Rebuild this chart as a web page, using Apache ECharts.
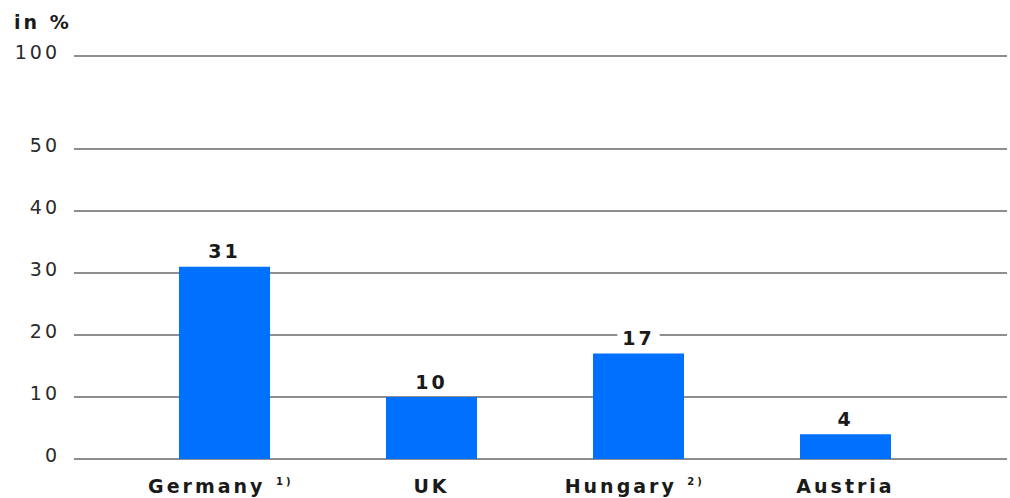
<!DOCTYPE html>
<html>
<head>
<meta charset="utf-8">
<script src="https://cdn.jsdelivr.net/npm/echarts@6/dist/echarts.min.js"></script>
<style>
  html, body { margin: 0; padding: 0; background: #fff; }
  #chart { width: 1010px; height: 498px; }
  /* wide tracking for all chart texts */
  #chart svg text { letter-spacing: 3px; }
</style>
</head>
<body>
<div id="chart"></div>
<script>
// Share of respondents per country, in %
const categories = ['Germany', 'UK', 'Hungary', 'Austria'];
const footnotes = ['1)', '', '2)', ''];
const shares = [31, 10, 17, 4];
const yTicks = [0, 10, 20, 30, 40, 50, 100];

// The axis is linear up to 50, then the 50–100 span is compressed.
const BREAK_AT = 50;
const COMPRESS = 0.3;
const scaleY = v => (v <= BREAK_AT ? v : BREAK_AT + (v - BREAK_AT) * COMPRESS);
const unscaleY = v => (v <= BREAK_AT ? v : Math.round(BREAK_AT + (v - BREAK_AT) / COMPRESS));
const yMax = scaleY(100);

const FONT = 'DejaVu Sans';
const chart = echarts.init(document.getElementById('chart'), null, { renderer: 'svg' });

chart.setOption({
  animation: false,
  backgroundColor: '#ffffff',
  graphic: [{
    type: 'text', left: 14, top: 12,
    style: { text: 'in %', font: `bold 19px "${FONT}"`, fill: '#1a1a1a' }
  }],
  grid: [
    { left: 74, right: 3, top: 56, bottom: 39 },
    { left: 121, right: 61, top: 56, bottom: 39 }
  ],
  xAxis: [
    { gridIndex: 0, type: 'value', min: 0, max: 1, show: false },
    {
      gridIndex: 1, type: 'category', data: categories,
      axisLine: { show: false }, axisTick: { show: false },
      axisLabel: {
        interval: 0, margin: 17,
        fontFamily: FONT, fontWeight: 'bold', fontSize: 19, color: '#1a1a1a',
        formatter: (v, i) => footnotes[i] ? `${v}{sup|${footnotes[i]}}` : v,
        rich: { sup: { fontFamily: FONT, fontWeight: 'bold', fontSize: 10, verticalAlign: 'top', padding: [0, 0, 9, 24], color: '#1a1a1a' } }
      }
    }
  ],
  yAxis: [
    {
      gridIndex: 0, type: 'value', min: 0, max: yMax, interval: 5,
      axisLine: { show: false }, axisTick: { show: false }, splitLine: { show: false },
      axisLabel: {
        customValues: yTicks.map(scaleY),
        formatter: v => String(unscaleY(v)),
        margin: 14, fontFamily: FONT, fontSize: 19, color: '#2a2a2a',
        verticalAlign: 'bottom', lineHeight: 8
      }
    },
    { gridIndex: 1, type: 'value', min: 0, max: yMax, show: false }
  ],
  series: [
    {
      // horizontal grid lines across the full plot width
      type: 'line', xAxisIndex: 0, yAxisIndex: 0, data: [[0, 0]],
      showSymbol: false, lineStyle: { opacity: 0 }, silent: true, z: 0,
      markLine: {
        silent: true, symbol: 'none', label: { show: false },
        lineStyle: { color: '#8e8e8e', width: 2, type: 'solid' },
        data: yTicks.map(v => ({ yAxis: scaleY(v) }))
      }
    },
    {
      type: 'bar', xAxisIndex: 1, yAxisIndex: 1, data: shares,
      barWidth: 91, z: 10,
      itemStyle: { color: '#0070ff' },
      label: {
        show: true, position: 'top', distance: 6,
        fontFamily: FONT, fontWeight: 'bold', fontSize: 19, color: '#1a1a1a',
        backgroundColor: '#ffffff', padding: [0, 8]
      }
    }
  ]
});
</script>
</body>
</html>
